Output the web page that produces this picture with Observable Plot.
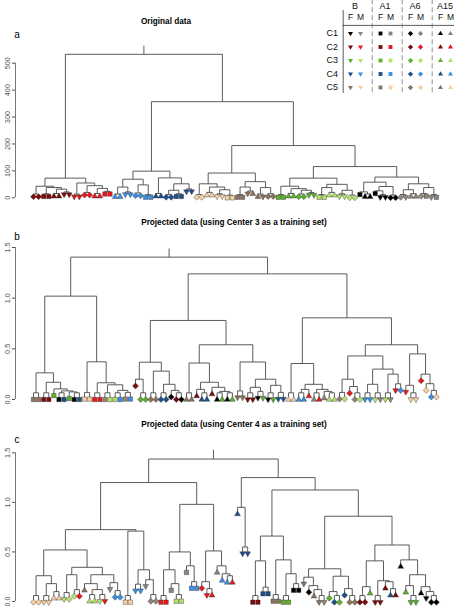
<!DOCTYPE html>
<html><head><meta charset="utf-8">
<script src="https://cdn.jsdelivr.net/npm/d3@7"></script>
<script src="https://cdn.jsdelivr.net/npm/@observablehq/plot@0.6"></script>
<style>
body{margin:0;background:#fff;}
#wrap{position:relative;width:454px;height:606px;overflow:hidden;font-family:"Liberation Sans",Arial,sans-serif;background:#fff;}
#wrap svg{position:absolute;left:0;top:0;background:transparent;overflow:visible;}
.ttl{position:absolute;font-weight:bold;font-size:8.2px;white-space:nowrap;transform:translate(-50%,-50%);line-height:1;color:#000;}
.lbl{position:absolute;font-size:10px;transform:translate(-50%,-50%);line-height:1;color:#000;}
</style></head><body><div id="wrap"></div><script>
// ---------- data ----------
const centers = ["C1","C2","C3","C4","C5"];
const sexes = ["F","M"];
const antibodies = ["B","A1","A6","A15"];
const abCodes = ["v","s","d","t"];            // leaf code letter per antibody
const colorKeys = ["1F","1M","2F","2M","3F","3M","4F","4M","5F","5M"];
const colorValues = ["#000000","#8e867c","#7d0b0b","#e8191c","#5db02a","#b5e36b","#1e4f8a","#3b90e3","#8a7560","#f6d0a3"];
const titles = ["Original data","Projected data (using Center 3 as a training set)","Projected data (using Center 4 as a training set)"];
const panelLabels = ["a","b","c"];
const ticksA = [0,100,200,300,400,500];
const ticksBC = [0,0.5,1,1.5];
const hangs = [10, 0.066, 0.067];
const stemTops = [565, 1.49, 1.53];

// trees: [mergeHeight, child, child]; leaf code = centre digit + sex + antibody letter
const treeA = [533,
  [73,
    [43, [14,"2Fd","2Fd"], [38, [15,"2Fs","2Fs"], [32, [16,"2Ft","2Ft"], [22,"2Fv","2Fv"]]]],
    [55, [14,"2Mv","2Mv"], [45, [20,"2Md","2Md"], [35, [16,"2Mt","2Mt"], [24,"2Ms","2Ms"]]]]],
  [357,
    [99,
      [69, [40, [14,"4Mt","4Mt"], [22,"4Mv","4Mv"]], [48, [18,"4Md","4Md"], [12,"4Ms","4Ms"]]],
      [74, [16,"4Ft","4Ft"], [52, [28, [12,"4Fd","4Fd"], [15,"4Fs","4Fs"]], [33,"4Fv","4Fv"]]]],
    [194,
      [92,
        [52, [12,"5Md","5Md"], [40, [20,"5Mt","5Mt"], [30, [15,"5Mv","5Mv"], [10,"5Ms","5Ms"]]]],
        [60, [40, [12,"5Fs","5Fs"], [25,"5Fv","5Ft"]], [38, [14,"5Ft","5Fv"], [15,"5Fd","5Fd"]]]],
      [116,
        [73,
          [43, [12,"3Fs","3Fs"], [34, [16,"3Ft","3Ft"], [28, [14,"3Fd","3Fd"], [20,"3Fv","3Fv"]]]],
          [50, [38, [12,"3Ms","3Ms"], [20,"3Mt","3Mt"]], [28, [15,"3Mv","3Mv"], [10,"3Md","3Md"]]]],
        [77,
          [58, [22,"1Fs",[14,"1Ft","1Ft"]], [42,[26,"1Fs",[12,"1Fv","1Fv"]],[10,"1Fd","1Fd"]]],
          [52, [30, [12,"1Md","1Mv"], [15,"1Mt","1Mt"]], [38, [16,"1Md","1Ms"], [12,"1Mv","1Ms"]]]]]]]];

const treeB = [1.405,
  [1.02,
    [0.263,
      [0.066,"5Fs","5Fs"],
      [0.17,
        [0.066,"2Fs","2Fs"],
        [0.105,
          "3Fs",
          [0.085, [0.066,"1Fs","4Fs"], [0.075,"3Fs",[0.066,"1Fs","4Fs"]]]]]],
    [0.372,
      [0.07,"5Ms","5Ms"],
      [0.165,
        [0.066,"2Ms","2Ms"],
        [0.145,
          [0.066,"1Ms","3Ms"],
          [0.09, [0.066,"3Ms","4Ms"], [0.07,"1Ms","4Ms"]]]]]],
  [1.24,
    [0.78,
      [0.368,
        [0.2, "2Fd", [0.066,"3Fd","3Fd"]],
        [0.28,
          [0.066,"5Fd","5Fd"],
          [0.15, [0.066,"4Fd","4Fd"], [0.09,"1Fd",[0.066,"2Fd","1Fd"]]]]],
      [0.54,
        [0.36,
          [0.066,"5Ft","5Ft"],
          [0.17,
            [0.1,"2Ft",[0.066,"4Ft","4Ft"]],
            [0.12,"2Ft",[0.08,[0.066,"1Ft","3Ft"],[0.066,"1Ft","3Ft"]]]]],
        [0.37,
          [0.085,"5Fv","5Fv"],
          [0.2,
            [0.12,[0.066,"2Fv","2Fv"],[0.08,"1Fv","3Fv"]],
            [0.14,[0.066,"1Fv","3Fv"],[0.07,"4Fv","4Fv"]]]]]],
    [0.806,
      [0.355,
        [0.066,"5Mt","5Mt"],
        [0.15,
          [0.1,[0.066,"4Mt","4Mt"],"2Mt"],
          [0.1,[0.066,"1Mt","2Mt"],[0.08,"1Mt",[0.066,"3Mt","3Mt"]]]]],
      [0.54,
        [0.43,
          [0.2,[0.07,"1Md","3Md"],[0.128,"2Md",[0.066,"1Md","3Md"]]],
          [0.3,
            [0.15,[0.066,"4Mv","4Mv"],[0.066,"3Mv","1Mv"]],
            [0.25,[0.066,"3Mv","1Mv"],[0.155,"2Mv","4Md"]]]],
        [0.45,
          [0.14,"2Mv",[0.066,"5Mv","5Mv"]],
          [0.25,"2Md",[0.156,"5Md",[0.09,"4Md","5Md"]]]]]]]];

const treeC = [1.437,
  [1.20,
    [0.725,
      [0.52,
        [0.26, [0.06,"5Md","5Md"], [0.18, [0.06,"5Mv","5Mv"], [0.1,"5Mt","5Mt"]]],
        [0.345,
          [0.27, [0.09,"3Mv","3Md"], [0.12,"3Md","2Md"]],
          [0.27,
            [0.18,"5Ft",[0.12,[0.07,"3Mt","3Mt"],[0.07,"3Mv","2Mv"]]],
            [0.19,"1Mv",[0.11,"4Md","4Md"]]]]],
      [0.71,
        [0.06,"5Ms","5Ms"],
        [0.32,
          [0.175,"4Mv","4Mv"],
          [0.22,"1Mv",[0.07,"1Md","1Md"]]]]],
    [0.98,
      [0.50,
        [0.32, [0.06,"2Ms","2Ms"], [0.18,"1Ms",[0.07,"3Ms","3Ms"]]],
        [0.36, "1Ms", [0.2,"4Ms","4Ms"]]],
      [0.51,
        [0.2,"2Md",[0.13,"2Mv","2Mt"]],
        [0.36,"1Mt",[0.28,"4Mt",[0.26,"4Mt","2Mt"]]]]]],
  [1.25,
    [0.95, "4Ft", [0.55,"4Fv","4Fv"]],
    [1.125,
      [0.66,
        [0.41,[0.06,"2Fs","2Fs"],[0.145,"4Fs","4Fs"]],
        [0.42,[0.07,"5Fs","5Fs"],[0.28,[0.06,"3Fs","3Fs"],[0.18,"1Fs","1Fs"]]]],
      [0.86,
        [0.33,
          [0.245,"5Fv",[0.16,"1Fd",[0.12,"5Ft",[0.06,"5Fv","1Mv"]]]],
          [0.255,[0.1,"3Fd",[0.06,"4Fd","3Fd"]],[0.13,"4Fd",[0.06,"5Fd","5Fd"]]]],
        [0.57,
          [0.41,
            [0.15,[0.06,"2Fd","2Fd"],"3Ft"],
            [0.21,[0.06,"2Fv","2Fv"],[0.2,"2Ft",[0.13,"4Ft","2Ft"]]]],
          [0.42,"1Ft",[0.27,[0.16,"3Ft",[0.06,"3Fv","3Fv"]],[0.15,"1Ft",[0.1,"1Fv",[0.06,"1Fd","1Fd"]]]]]]]]]];

// ---------- layout helpers ----------
function layoutTree(tree, hang, stemTop) {
  let i = 0;
  const segs = [], leaves = [];
  function walk(node, parentH) {
    if (typeof node === "string") {
      const x = i++, y = parentH - hang;
      leaves.push({x, y, key: node[0] + node[1], code: node[2],
                   center: "C" + node[0], sex: node[1], ab: antibodies[abCodes.indexOf(node[2])]});
      return {x, y};
    }
    const [h, ...kids] = node;
    const pts = kids.map(k => walk(k, h));
    pts.forEach(p => segs.push({x1: p.x, y1: p.y, x2: p.x, y2: h}));
    segs.push({x1: pts[0].x, y1: h, x2: pts[pts.length - 1].x, y2: h});
    return {x: (pts[0].x + pts[pts.length - 1].x) / 2, y: h};
  }
  const root = walk(tree, null);
  segs.push({x1: root.x, y1: root.y, x2: root.x, y2: stemTop});
  return {segs, leaves, n: i};
}

function makeSym(kind) {
  return {draw(c, size) {
    const r = Math.sqrt(size / Math.PI);
    if (kind === "v") { const w = r*1.2, t = r*0.75, b = r*1.35; c.moveTo(-w,-t); c.lineTo(w,-t); c.lineTo(0,b); c.closePath(); }
    else if (kind === "t") { const w = r*1.2, t = r*0.75, b = r*1.35; c.moveTo(-w,t); c.lineTo(w,t); c.lineTo(0,-b); c.closePath(); }
    else if (kind === "s") { const q = r*0.92; c.moveTo(-q,-q); c.lineTo(q,-q); c.lineTo(q,q); c.lineTo(-q,q); c.closePath(); }
    else { const q = r*1.25; c.moveTo(0,-q); c.lineTo(q,0); c.lineTo(0,q); c.lineTo(-q,0); c.closePath(); }
  }};
}
const SYM = Object.fromEntries(abCodes.map(k => [k, makeSym(k)]));

const wrap = document.getElementById("wrap");
const W = 454, H = 606;
const AXIS_PX = 15;
const XR = [33, 435.9];
const panels = [
  {tree: treeA, ticks: ticksA, yr: [197.3, 62.7], fmt: d3.format("d"), title: [166, 22], lab: [17, 35]},
  {tree: treeB, ticks: ticksBC, yr: [399, 247], fmt: d3.format(".1f"), title: [234, 223], lab: [17, 237]},
  {tree: treeC, ticks: ticksBC, yr: [601, 452.3], fmt: d3.format(".1f"), title: [234, 425], lab: [17, 440]}
];

panels.forEach((p, k) => {
  const L = layoutTree(p.tree, hangs[k], stemTops[k]);
  const xd = [0, L.n - 1];
  const axisX = xd[0] + (AXIS_PX - XR[0]) * (xd[1] - xd[0]) / (XR[1] - XR[0]);
  const tmin = p.ticks[0], tmax = p.ticks[p.ticks.length - 1];
  const svg = Plot.plot({
    width: W, height: H, marginLeft: AXIS_PX, marginTop: 0, marginRight: 0, marginBottom: 0,
    style: {background: "transparent", overflow: "visible", fontFamily: "Liberation Sans, Arial, sans-serif"},
    x: {domain: xd, range: XR, axis: null},
    y: {domain: [tmin, tmax], range: p.yr},
    color: {type: "ordinal", domain: colorKeys, range: colorValues},
    marks: [
      Plot.ruleX([axisX], {y1: tmin, y2: tmax, stroke: "#555", strokeWidth: 0.8}),
      Plot.axisY(p.ticks, {tickSize: 3, tickPadding: 3, tickRotate: -90, fontSize: 7.3, color: "#555", tickFormat: p.fmt, label: null}),
      Plot.link(L.segs, {x1: "x1", y1: "y1", x2: "x2", y2: "y2", stroke: "#4a4a4a", strokeWidth: 0.9}),
      ...abCodes.map(c => Plot.dot(L.leaves.filter(d => d.code === c),
        {x: "x", y: "y", r: 2.4, symbol: SYM[c], fill: "key", stroke: "#333", strokeWidth: 0.4}))
    ]
  });
  wrap.appendChild(svg);
  const t = document.createElement("div"); t.className = "ttl"; t.textContent = titles[k];
  t.style.left = p.title[0] + "px"; t.style.top = p.title[1] + "px"; wrap.appendChild(t);
  const l = document.createElement("div"); l.className = "lbl"; l.textContent = panelLabels[k];
  l.style.left = p.lab[0] + "px"; l.style.top = p.lab[1] + "px"; wrap.appendChild(l);
});

// ---------- legend table ----------
const legendCells = [];
centers.forEach((c, ci) => antibodies.forEach((a, gi) => sexes.forEach((s, si) =>
  legendCells.push({cx: gi * 3 + si, cy: ci, key: c.slice(1) + s, code: abCodes[gi]}))));
const headerCells = antibodies.map((a, gi) => ({x: gi * 3 + 0.45, label: a}));
const sexCells = antibodies.flatMap((a, gi) => sexes.map((s, si) => ({x: gi * 3 + si, label: s})));
const sepCells = antibodies.slice(1).map((a, gi) => ({x: (gi + 1) * 3 - 0.83}));
const leg = Plot.plot({
  width: W, height: H, margin: 0,
  style: {background: "transparent", overflow: "visible", fontFamily: "Liberation Sans, Arial, sans-serif"},
  x: {domain: [0, 10], range: [350, 450], axis: null},
  y: {domain: [0, 4], range: [33, 87], axis: null},
  color: {type: "ordinal", domain: colorKeys, range: colorValues},
  marks: [
    Plot.ruleX([-0.73], {y1: -1.7, y2: 4.44, stroke: "#333", strokeWidth: 0.8}),
    Plot.ruleY([-0.6], {x1: -0.73, x2: 10.5, stroke: "#333", strokeWidth: 0.8}),
    Plot.ruleX(sepCells, {x: "x", y1: -2.5, y2: 4.44, stroke: "#666", strokeWidth: 0.7, strokeDasharray: "5,3"}),
    Plot.text(headerCells, {x: "x", y: -2, text: "label", fontSize: 9, fill: "#111"}),
    Plot.text(sexCells, {x: "x", y: -1.2, text: "label", fontSize: 8.5, fill: "#111"}),
    Plot.text(centers, {x: -1.83, y: (d, i) => i, text: d => d, fontSize: 9, fill: "#111"}),
    ...abCodes.map(c => Plot.dot(legendCells.filter(d => d.code === c),
      {x: "cx", y: "cy", r: 2.1, symbol: SYM[c], fill: "key"}))
  ]
});
wrap.appendChild(leg);
</script></body></html>
